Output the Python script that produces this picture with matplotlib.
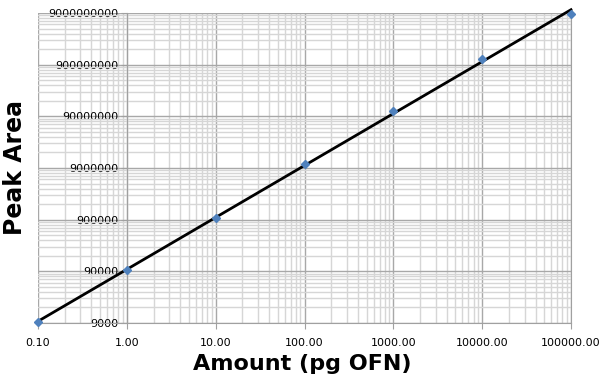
import numpy as np
import matplotlib
matplotlib.use("Agg")
import matplotlib.pyplot as plt
from matplotlib.ticker import FixedLocator, LogLocator, NullFormatter, FuncFormatter

# data
amount = [0.1, 1, 10, 100, 1000, 10000, 100000]
peak_area = [9300, 95000, 960000, 1.08e7, 1.15e8, 1.15e9, 8.6e9]

x_ticks = [0.1, 1, 10, 100, 1000, 10000, 100000]
y_ticks = [9000, 90000, 900000, 9000000, 90000000, 900000000, 9000000000]

fig = plt.figure(figsize=(6.01, 3.85), dpi=100)
ax = fig.add_axes([38 / 601, 62 / 385, 533 / 601, 310 / 385])

ax.set_xscale("log")
ax.set_yscale("log")
ax.set_xlim(x_ticks[0], x_ticks[-1])
ax.set_ylim(y_ticks[0], y_ticks[-1])

# gridlines like excel: minor light, major darker
ax.xaxis.set_major_locator(FixedLocator(x_ticks))
ax.yaxis.set_major_locator(FixedLocator(y_ticks))
ax.xaxis.set_minor_locator(LogLocator(base=10, subs=range(2, 10)))
ax.yaxis.set_minor_locator(LogLocator(base=10, subs=[0.9 * k for k in range(2, 10)]))
ax.xaxis.set_minor_formatter(NullFormatter())
ax.yaxis.set_minor_formatter(NullFormatter())
ax.xaxis.set_major_formatter(FuncFormatter(lambda v, p: "%.2f" % v))
ax.yaxis.set_major_formatter(FuncFormatter(lambda v, p: "%d" % round(v)))

ax.grid(True, which="minor", color="#d6d6d6", lw=1)
ax.grid(True, which="major", color="#a8a8a8", lw=1)
ax.set_axisbelow(True)

# power trendline fitted in log space
fit = np.polyfit(np.log10(amount), np.log10(peak_area), 1)
xs = np.array([x_ticks[0], x_ticks[-1]])
ax.plot(xs, 10 ** np.polyval(fit, np.log10(xs)), color="black", lw=2, zorder=3, clip_on=False)
ax.plot(amount, peak_area, "D", color="#4f81bd", ms=4, zorder=4, clip_on=False)

# vertical axis crosses at 1 (excel default for log)
ax.spines["left"].set_position(("data", 1))
for s in ["left", "bottom", "right"]:
    ax.spines[s].set_color("#a0a0a0")
ax.spines["top"].set_visible(False)

ax.tick_params(axis="both", which="major", labelsize=8, color="#a0a0a0", length=4)
ax.tick_params(axis="both", which="minor", length=0)
ax.tick_params(axis="x", pad=7)
ax.tick_params(axis="y", pad=2)

ax.set_xlabel("Amount (pg OFN)", fontsize=16, fontweight="bold")
ax.set_ylabel("Peak Area", fontsize=17, fontweight="bold")
ax.xaxis.set_label_coords(0.495, -0.1)
ax.yaxis.set_label_coords(-0.02, 0.5)

fig.savefig("out.png", dpi=100)
